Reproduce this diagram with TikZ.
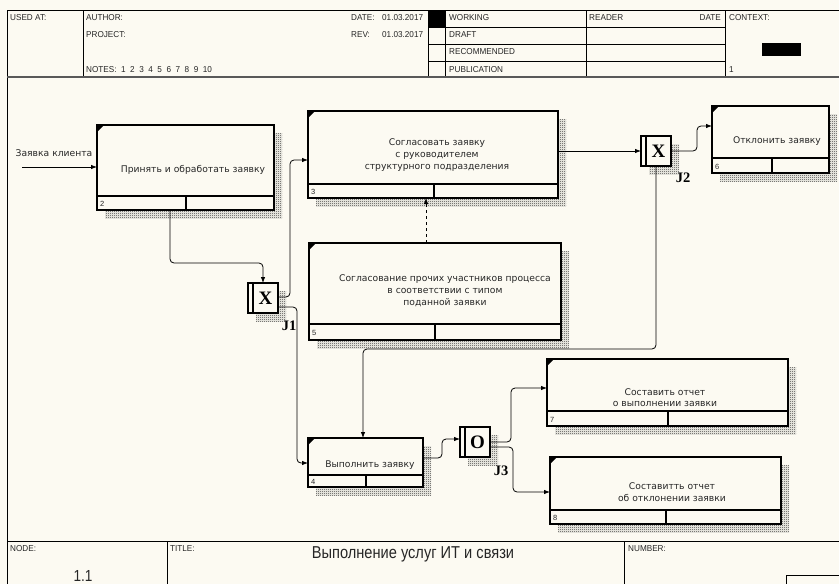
\documentclass[tikz,border=0pt]{standalone}
\usepackage{fontspec}
\setmainfont{Liberation Sans}
\newfontfamily\boxfont{DejaVu Sans}
\newfontfamily\narrowfont[FakeStretch=0.85]{Liberation Sans}
\newfontfamily\hdrfont[FakeStretch=0.95]{Liberation Sans}
\newfontfamily\jfont{Liberation Serif}
\usetikzlibrary{patterns,arrows.meta,calc}
\definecolor{bg}{RGB}{252,250,242}
\pgfdeclarepatternformonly{dither}{\pgfpointorigin}{\pgfpoint{2pt}{2pt}}{\pgfpoint{2pt}{2pt}}{%
  \pgfpathrectangle{\pgfpointorigin}{\pgfpoint{1pt}{1pt}}%
  \pgfpathrectangle{\pgfpoint{1pt}{1pt}}{\pgfpoint{1pt}{1pt}}%
  \pgfusepath{fill}}
\tikzset{
  abox/.style={draw, line width=1.6pt, fill=bg, rectangle, inner sep=0pt, outer sep=0pt},
  hatch/.style={pattern=dither, pattern color=black!80},
  btext/.style={font=\boxfont\fontsize{9.2}{12}\selectfont, align=center, text=black!85, inner sep=0pt},
  bnum/.style={font=\fontsize{7.5}{8}\selectfont, anchor=west, inner sep=0pt, text=black!85},
  hdr/.style={font=\hdrfont\fontsize{8.6}{9}\selectfont, anchor=west, inner sep=0pt, text=black!85},
  conn/.style={line width=0.8pt, rounded corners=4pt},
  arr/.style={conn, -{Latex[length=6pt,width=4.5pt]}},
  junc/.style={draw, line width=1.4pt, fill=bg, rectangle, inner sep=0pt, outer sep=0pt, minimum size=30pt},
  jletter/.style={font=\jfont\bfseries\fontsize{19}{19}\selectfont, inner sep=0pt},
  jlabel/.style={font=\jfont\bfseries\fontsize{14.5}{14.5}\selectfont, inner sep=0pt},
  frame/.style={line width=0.9pt},
}
% name x1 y1 x2 y2 divider-y mid-x number
\newcommand\actbox[8]{%
  \fill[hatch] (#2+8,#3+8) rectangle (#4+8,#5+8);
  \node[abox, anchor=north west, minimum width={#4-#2}, minimum height={#5-#3}] (#1) at (#2,#3) {};
  \draw[line width=1.6pt] (#2,#6) -- (#4,#6);
  \draw[line width=1.6pt] (#7,#6) -- (#7,#5);
  \fill (#2,#3) -- (#2+7,#3) -- (#2,#3+7) -- cycle;
  \node[bnum] (#1n) at (#2+3,{(#6+#5)/2+1}) {#8};
}
% name x1 y1 letter
\newcommand\junction[4]{%
  \fill[hatch] (#2+8,#3+8) rectangle (#2+38,#3+38);
  \node[junc, anchor=north west] (#1) at (#2,#3) {};
  \draw[line width=1.2pt] (#2+5,#3) -- (#2+5,#3+30);
  \node[jletter] (#1x) at (#2+17.5,#3+15.5) {#4};
}
\begin{document}
\begin{tikzpicture}[x=1pt,y=-1pt]
\useasboundingbox (0,0) rectangle (839,584);
\fill[bg] (0,0) rectangle (839,584);

% ---------- header ----------
\draw[frame] (7,584) -- (7,10) -- (839,10);
\draw[frame] (83,10) -- (83,77);
\draw[frame] (428,10) -- (428,77);
\draw[frame] (445,10) -- (445,77);
\draw[frame] (586,10) -- (586,77);
\draw[frame] (725,10) -- (725,77);
\foreach \yy in {27,44,61} \draw[frame] (428,\yy) -- (725,\yy);
\fill (428,10) rectangle (445,27);
\fill (762,43) rectangle (801,56);
\draw[line width=1.8pt, black!65] (7,77) -- (839,77);

\node[hdr] (hused) at (10,18) {USED AT:};
\node[hdr] (hauth) at (86,18) {AUTHOR:};
\node[hdr] (hproj) at (86,35) {PROJECT:};
\node[hdr] (hnotes) at (86,70) {NOTES:\ \ 1\ \ 2\ \ 3\ \ 4\ \ 5\ \ 6\ \ 7\ \ 8\ \ 9\ \ 10};
\node[hdr] (hdate) at (351,18) {DATE:};
\node[hdr] (hdatev) at (382,18) {01.03.2017};
\node[hdr] (hrev) at (351,35) {REV:};
\node[hdr] (hrevv) at (382,35) {01.03.2017};
\node[hdr] (hwork) at (449,18) {WORKING};
\node[hdr] (hdraft) at (449,35) {DRAFT};
\node[hdr] (hrec) at (449,52) {RECOMMENDED};
\node[hdr] (hpub) at (449,70) {PUBLICATION};
\node[hdr] (hread) at (589,18) {READER};
\node[hdr, anchor=east] (hrdate) at (721,18) {DATE};
\node[hdr] (hctx) at (729,18) {CONTEXT:};
\node[hdr] (hone) at (729,70) {1};

% ---------- footer ----------
\draw[frame] (7,541) -- (839,541);
\draw[frame] (167,541) -- (167,584);
\draw[frame] (624,541) -- (624,584);
\draw[frame] (786,584) -- (786,575) -- (839,575);
\node[hdr] (fnode) at (10,549) {NODE:};
\node[font=\narrowfont\fontsize{16}{16}\selectfont, inner sep=0pt, text=black!85] (fnum) at (83,576) {1.1};
\node[hdr] (ftitle) at (170,549) {TITLE:};
\node[font=\narrowfont\fontsize{17.2}{17}\selectfont, inner sep=0pt, text=black!85] (ftext) at (413,554) {Выполнение услуг ИТ и связи};
\node[hdr] (fnumber) at (628,549) {NUMBER:};

% ---------- activity boxes ----------
\actbox{b2}{97}{125}{274}{210}{196}{186}{2}
\actbox{b3}{308}{111}{558}{198}{184}{434}{3}
\actbox{b6}{712}{106}{829}{173}{158}{772}{6}
\actbox{b5}{309}{243}{561}{340}{324}{435}{5}
\actbox{b4}{308}{438}{423}{487}{475}{366}{4}
\actbox{b7}{547}{359}{788}{426}{411}{668}{7}
\actbox{b8}{550}{457}{781}{524}{510}{666}{8}

\node[btext] (b2t) at (193,170) {Принять и обработать заявку};
\node[btext] (b3t) at (437,155) {Согласовать заявку\\с руководителем\\структурного подразделения};
\node[btext] (b6t) at (777,141) {Отклонить заявку};
\node[btext] (b5t) at (445,291) {Согласование прочих участников процесса\\в соответствии с типом\\поданной заявки};
\node[btext] (b4t) at (370,465) {Выполнить заявку};
\node[btext, font=\boxfont\fontsize{9.2}{11.5}\selectfont] (b7t) at (665,397.5) {Составить отчет\\о выполнении заявки};
\node[btext, font=\boxfont\fontsize{9.2}{11.5}\selectfont] (b8t) at (672,492) {Составитть отчет\\об отклонении заявки};

% ---------- junctions ----------
\junction{j1}{248}{283}{X}
\junction{j2}{641}{136}{X}
\junction{j3}{460}{427}{O}
\node[jlabel] (j1l) at (289,326) {J1};
\node[jlabel] (j2l) at (683,178) {J2};
\node[jlabel] (j3l) at (501,471) {J3};

% ---------- connectors ----------
\coordinate (in0) at (22,167);
\node[btext, font=\boxfont\fontsize{9.2}{10}\selectfont] (inlbl) at (54,153) {Заявка клиента};
\draw[arr] (in0) -- (in0 -| b2.west);

\draw[arr] ($(b2.south west)+(73,0)$) -- ++(0,53) -| (j1.north);
\draw[arr] ($(j1.east)+(0,-1)$) -- ++(12,0) |- ($(b3.west)+(0,5.5)$);
\draw[arr] ($(j1.east)+(0,9)$) -- ++(19,0) |- ($(b4.west)+(0,0.5)$);
\draw[arr] (j2.west -| b3.east) -- (j2.west);
\draw[arr] (j2.east) -- ++(26,0) |- ($(b6.west)+(0,-13.5)$);
\coordinate (c349) at (0,349);
\draw[arr] (j2.south) -- (j2.south |- c349) -| ($(b4.north)+(-2.5,0)$);
\coordinate (dx) at (426,0);
\draw[arr, dashed, rounded corners=0pt] (b5.north -| dx) -- (b3.south -| dx);
\draw[arr] ($(b4.east)+(0,-4.5)$) -- ++(19,0) |- ($(j3.west)+(0,-3)$);
\draw[arr] (j3.east) -- ++(21,0) |- ($(b7.west)+(0,-4.5)$);
\draw[arr] ($(j3.east)+(0,5)$) -- ++(23,0) |- ($(b8.west)+(0,1.5)$);
\end{tikzpicture}
\end{document}
